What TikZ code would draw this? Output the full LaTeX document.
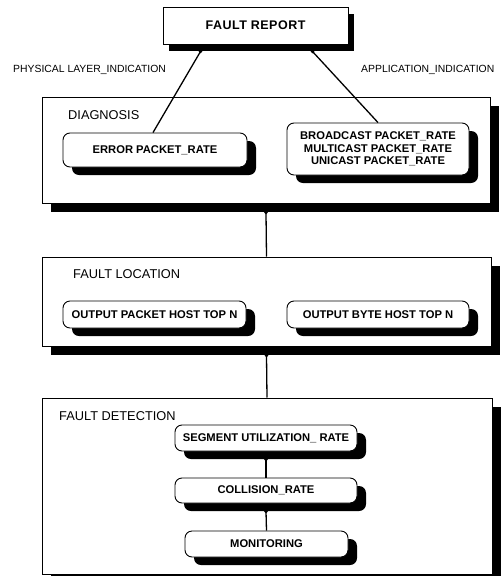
\documentclass[tikz,border=0pt]{standalone}
\usepackage{fontspec}
\setmainfont{Liberation Sans}
\usetikzlibrary{shadows}
\begin{document}
\begin{tikzpicture}[x=1pt,y=-1pt,
  bigbox/.style={draw, line width=1pt, fill=white, inner sep=0pt,
    drop shadow={shadow xshift=9pt, shadow yshift=-9pt, fill=black, opacity=1}},
  rbox/.style={draw, line width=0.9pt, fill=white, rounded corners=7pt, inner sep=0pt,
    drop shadow={shadow xshift=9pt, shadow yshift=-8pt, fill=black, opacity=1},
    font=\fontsize{11.2}{12.5}\selectfont\bfseries, align=center},
  lbl/.style={anchor=west, inner sep=0pt, font=\fontsize{12.8}{14}\selectfont},
  side/.style={anchor=west, inner sep=0pt, font=\fontsize{10.4}{12}\selectfont},
  conn/.style={line width=1.3pt},
  jdot/.style={fill=black}
]
\useasboundingbox (0,0) rectangle (501,576);

% top report box
\node[draw, line width=1pt, fill=white, inner sep=0pt, minimum width=185pt, minimum height=37pt,
  drop shadow={shadow xshift=6pt, shadow yshift=-7pt, fill=black, opacity=1},
  font=\fontsize{12.5}{14}\selectfont\bfseries\addfontfeature{LetterSpace=4}] (report) at (255.5,25.5) {FAULT REPORT};

\node[side] (phys) at (13,70) {PHYSICAL LAYER\_INDICATION};
\node[side] (app) at (361,70) {APPLICATION\_INDICATION};

% layer boxes
\node[bigbox, minimum width=448pt, minimum height=106pt] (diag) at (266,150) {};
\node[bigbox, minimum width=449pt, minimum height=89pt] (loc) at (266.5,301.5) {};
\node[bigbox, minimum width=450pt, minimum height=176pt] (det) at (267,486) {};

\node[lbl] (diaglbl) at (68,115) {DIAGNOSIS};
\node[lbl] (loclbl) at (73,274) {FAULT LOCATION};
\node[lbl] (detlbl) at (59,416) {FAULT DETECTION};

% inner boxes
\node[rbox, minimum width=184pt, minimum height=34pt] (err) at (155,150) {ERROR PACKET\_RATE};
\node[rbox, minimum width=182pt, minimum height=52pt] (bc) at (378,149) {BROADCAST PACKET\_RATE\\MULTICAST PACKET\_RATE\\UNICAST PACKET\_RATE};
\node[rbox, minimum width=183pt, minimum height=27pt] (op) at (154.5,314.5) {OUTPUT PACKET HOST TOP N};
\node[rbox, minimum width=182pt, minimum height=27pt] (ob) at (378,314.5) {OUTPUT BYTE HOST TOP N};
\node[rbox, minimum width=182pt, minimum height=26pt] (seg) at (266,438) {SEGMENT UTILIZATION\_ RATE};
\node[rbox, minimum width=182pt, minimum height=25pt] (col) at (266,490.5) {COLLISION\_RATE};
\node[rbox, minimum width=163pt, minimum height=26pt] (mon) at (266.5,544) {MONITORING};

% connectors
\draw[conn] ([xshift=-55pt,yshift=-7pt]report.south) -- ([xshift=-2pt]err.north);
\draw[conn] ([xshift=57pt,yshift=-7pt]report.south) -- (bc.north);
\draw[conn] ([yshift=-9pt]diag.south) -- (loc.north);
\draw[conn] ([yshift=-9pt]loc.south) -- (det.north);
\draw[conn] ([yshift=-8pt]seg.south) -- (col.north);
\draw[conn] ([yshift=-8pt]col.south) -- (mon.north);

\fill[jdot] ([xshift=-55pt,yshift=-7pt]report.south) circle (1.8pt);
\fill[jdot] ([xshift=57pt,yshift=-7pt]report.south) circle (1.8pt);
\fill[jdot] ([yshift=-9pt]diag.south) circle (1.8pt);
\fill[jdot] ([yshift=-9pt]loc.south) circle (1.8pt);
\fill[jdot] ([yshift=-8pt]seg.south) circle (1.8pt);
\fill[jdot] ([yshift=-8pt]col.south) circle (1.8pt);
\end{tikzpicture}
\end{document}
